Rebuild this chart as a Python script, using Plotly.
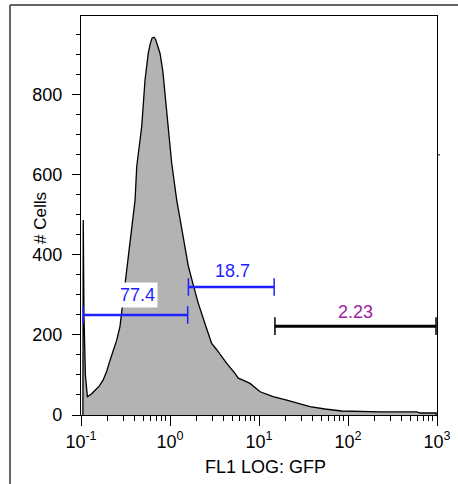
import math
import plotly.graph_objects as go

# histogram outline (FL1 log scale, cell counts)
gfp = [0.105, 0.106, 0.108, 0.112, 0.118, 0.130, 0.144, 0.160, 0.177, 0.195, 0.212,
       0.232, 0.252, 0.274, 0.292, 0.312, 0.334, 0.356, 0.380, 0.405, 0.423, 0.450,
       0.481, 0.524, 0.570, 0.600, 0.630, 0.661, 0.690, 0.720, 0.772, 0.830, 0.879,
       0.957, 1.045, 1.19, 1.30, 1.45, 1.61, 1.85, 2.08, 2.50, 2.94, 3.30, 3.81,
       4.34, 5.37, 5.85, 6.80, 7.93, 10.3, 14.4, 20.5, 28.0, 37.4, 55.0,
       84.9, 229, 592, 644, 977, 977]
cells = [0, 487, 250, 100, 46, 52, 62, 72, 87, 110, 137,
         162, 187, 221, 275, 330, 385, 430, 485, 537, 621, 670,
         721, 837, 904, 928, 942, 944, 938, 925, 904, 860, 804,
         712, 629, 537, 487, 430, 371, 320, 279, 225, 179, 165, 146,
         129, 104, 92, 86, 79, 58, 46, 37, 29, 21, 15,
         10, 8, 8, 5, 5, 0]

# gates: start, end, height, label, colour
gate_lo = [0.106, 1.61, 15.1]
gate_hi = [1.58, 14.8, 975]
gate_y = [250, 320, 222]
gate_txt = ["77.4", "18.7", "2.23"]
gate_col = ["#1f1fff", "#1f1fff", "#000000"]
txt_col = ["#1f1fff", "#1f1fff", "#a0209f"]
txt_x = [0.426, 5.0, 120]
txt_y = [300, 360, 258]

xticks = [0.1, 1, 10, 100, 1000]
xlabels = ["10<sup>-1</sup>", "10<sup>0</sup>", "10<sup>1</sup>", "10<sup>2</sup>", "10<sup>3</sup>"]

W, H = 458, 484
ML, MT = 10, 5          # outer frame corner
PW, PH = W - ML, H - MT


def px_x(p):
    return (p - ML) / PW


def px_y(p):
    return (H - p) / PH


fig = go.Figure()
fig.add_trace(go.Scatter(x=gfp, y=cells, mode="lines", fill="tozeroy",
                         fillcolor="#b3b3b3", line=dict(color="black", width=1.3),
                         hoverinfo="skip"))

for i in range(3):
    w = 2.4 if i < 2 else 3
    fig.add_trace(go.Scatter(x=[gate_lo[i], gate_hi[i]], y=[gate_y[i], gate_y[i]],
                             mode="lines", line=dict(color=gate_col[i], width=w)))
    for xe in (gate_lo[i], gate_hi[i]):
        fig.add_trace(go.Scatter(x=[xe, xe], y=[gate_y[i] - 22, gate_y[i] + 22],
                                 mode="lines", line=dict(color=gate_col[i], width=1.5)))
    fig.add_annotation(x=math.log10(txt_x[i]), y=txt_y[i], text=gate_txt[i], showarrow=False,
                       font=dict(color=txt_col[i], size=18),
                       bgcolor="white" if i == 0 else "rgba(0,0,0,0)", borderpad=2)

# axis titles
fig.add_annotation(xref="paper", yref="paper", x=px_x(265), y=px_y(467), text="FL1 LOG: GFP",
                   xanchor="center", yanchor="middle", showarrow=False, font=dict(size=18))
fig.add_annotation(xref="paper", yref="paper", x=px_x(40), y=px_y(218), text="# Cells",
                   xanchor="center", yanchor="middle", textangle=-90, showarrow=False,
                   font=dict(size=17))

# outer frame (left and top edges)
fig.add_shape(type="line", xref="paper", yref="paper", x0=0, x1=1.05, y0=1, y1=1,
              line=dict(color="#333", width=1.5))
fig.add_shape(type="line", xref="paper", yref="paper", x0=0, x1=0, y0=1, y1=-0.05,
              line=dict(color="#333", width=1.5))
# stray tick on the right border
fig.add_shape(type="line", xref="paper", yref="y", x0=px_x(437), x1=px_x(440), y0=650, y1=650,
              line=dict(color="black", width=1))

fig.update_layout(
    width=W, height=H, showlegend=False,
    margin=dict(l=ML, r=0, t=MT, b=0, pad=0, autoexpand=False),
    paper_bgcolor="white", plot_bgcolor="white",
    font=dict(family="Liberation Sans, Arial, sans-serif", color="black", size=18),
)
fig.update_xaxes(type="log", range=[-1, 3], tickvals=xticks, ticktext=xlabels,
                 domain=[px_x(81), px_x(437)],
                 ticks="outside", ticklen=10, tickwidth=1.2, tickcolor="black",
                 minor=dict(ticks="outside", ticklen=5, dtick="D1", tickcolor="black"),
                 showline=True, linecolor="black", linewidth=1.2, mirror=True,
                 showgrid=False, zeroline=False, automargin=False)
fig.update_yaxes(range=[0, 997], tickvals=[0, 200, 400, 600, 800],
                 domain=[px_y(415), px_y(16)],
                 ticks="outside", ticklen=8, tickwidth=1.2, tickcolor="black",
                 minor=dict(ticks="outside", ticklen=4, dtick=50, tickcolor="black"),
                 showline=True, linecolor="black", linewidth=1.2, mirror=True,
                 showgrid=False, zeroline=False, automargin=False, ticklabelstandoff=6)

fig.write_html("out.html", config={"displayModeBar": False},
               post_script="document.body.style.margin='0';")
